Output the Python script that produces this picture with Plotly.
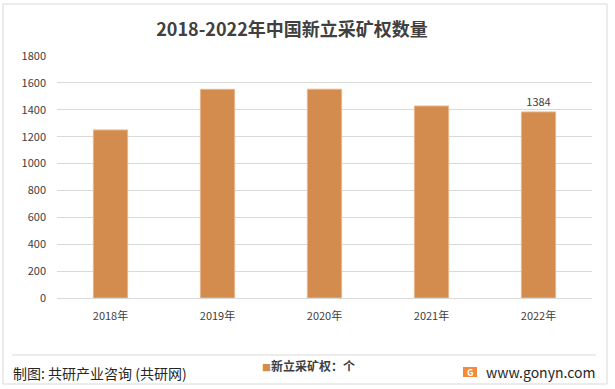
import plotly.graph_objects as go

categories = ["2018年", "2019年", "2020年", "2021年", "2022年"]
values = [1250, 1552, 1553, 1428, 1384]
label_texts = ["", "", "", "", "1384"]
y_ticks = [0, 200, 400, 600, 800, 1000, 1200, 1400, 1600, 1800]

FONT = "Noto Sans CJK SC"
bar_color = "#D48B4E"

def px_x(p):
    return (p - 57) / 535

def px_y(p):
    return (298 - p) / 242

fig = go.Figure()
fig.add_trace(go.Bar(
    x=categories, y=values, name="新立采矿权：个",
    marker=dict(color=bar_color, line=dict(color="#E8B68A", width=1)),
    text=label_texts, textposition="outside",
    textfont=dict(family=FONT, size=11, color="#404040"),
    cliponaxis=False, width=0.32, showlegend=False,
))

fig.update_layout(
    width=615, height=389,
    margin=dict(l=57, r=23, t=56, b=91),
    paper_bgcolor="white", plot_bgcolor="white",
    font=dict(family=FONT, color="#595959"),
    title=dict(text="<b>2018-2022年中国新立采矿权数量</b>", x=292/615, xanchor="center",
               y=1 - 30/389, yanchor="middle",
               font=dict(family=FONT, size=18, color="#404040")),
    xaxis=dict(showgrid=False, showline=True, linecolor="#D9D9D9", linewidth=1,
               ticks="", tickfont=dict(size=11, color="#404040", family=FONT),
               ticklabelstandoff=8),
    yaxis=dict(range=[0, 1800], tickvals=y_ticks, showgrid=True, gridcolor="#D9D9D9",
               gridwidth=1, zeroline=False, showline=False, ticks="",
               tickfont=dict(size=11, color="#404040", family=FONT),
               ticklabelstandoff=10),
    bargap=0.68,
    showlegend=False,
)

# outer border
fig.add_shape(type="rect", xref="paper", yref="paper",
              x0=px_x(3), x1=px_x(607), y0=px_y(384), y1=px_y(4),
              line=dict(color="#D9D9D9", width=1), fillcolor="rgba(0,0,0,0)", layer="below")
# footer separator
fig.add_shape(type="line", xref="paper", yref="paper",
              x0=px_x(12), x1=px_x(596), y0=px_y(355), y1=px_y(355),
              line=dict(color="#D9D9D9", width=1))

# footer texts
fig.add_annotation(xref="paper", yref="paper", x=px_x(11), y=px_y(373),
                   xanchor="left", yanchor="middle", showarrow=False,
                   text="制图: 共研产业咨询 (共研网)",
                   font=dict(family=FONT, size=14, color="#262626"))
fig.add_annotation(xref="paper", yref="paper", x=px_x(260), y=px_y(365),
                   xanchor="left", yanchor="middle", showarrow=False,
                   text="<span style='color:%s;font-size:9px'>■</span><b>新立采矿权：个</b>" % bar_color,
                   font=dict(family=FONT, size=12, color="#404040"))
fig.add_shape(type="rect", xref="paper", yref="paper",
              x0=px_x(463), x1=px_x(477), y0=px_y(377), y1=px_y(367),
              line=dict(width=0), fillcolor="#F48A3C")
fig.add_annotation(xref="paper", yref="paper", x=px_x(470), y=px_y(372),
                   xanchor="center", yanchor="middle", showarrow=False,
                   text="<b>G</b>", font=dict(family=FONT, size=9, color="white"))
fig.add_annotation(xref="paper", yref="paper", x=px_x(597), y=px_y(372),
                   xanchor="right", yanchor="middle", showarrow=False,
                   text="www.gonyn.com",
                   font=dict(family=FONT, size=14, color="#262626"))

fig.write_html("out.html", config={"displayModeBar": False},
               post_script="document.body.style.margin='0';document.body.style.overflow='hidden';")
